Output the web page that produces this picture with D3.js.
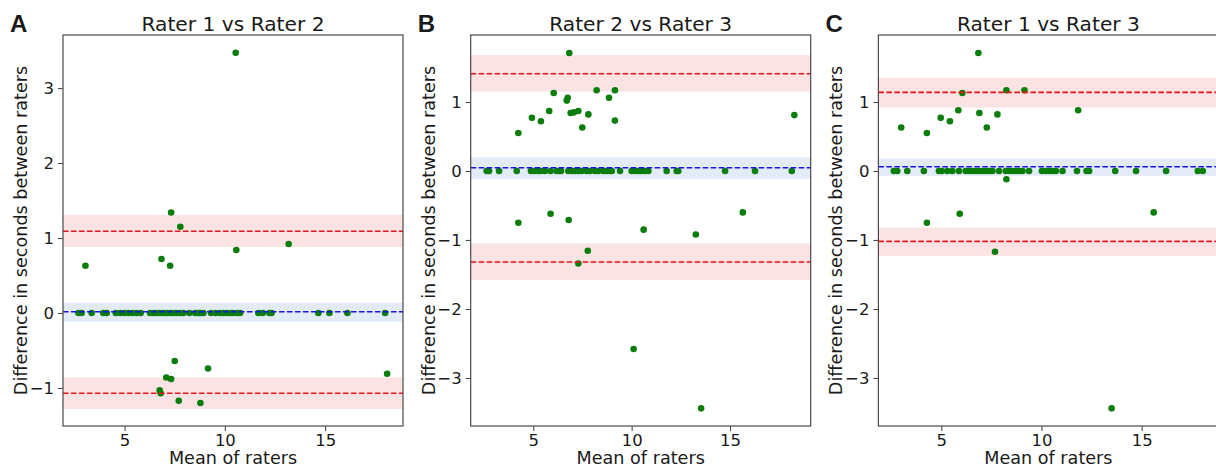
<!DOCTYPE html>
<html lang="en">
<head>
<meta charset="utf-8">
<title>Bland-Altman plots</title>
<script src="https://cdn.jsdelivr.net/npm/d3@7"></script>
<style>
  body { margin: 0; background: #fff; }
  text { font-family: "DejaVu Sans", sans-serif; fill: #1a1a1a; }
</style>
</head>
<body>
<script>
// ---- data ----
var titles = ["Rater 1 vs Rater 2", "Rater 2 vs Rater 3", "Rater 1 vs Rater 3"];
var letters = ["A", "B", "C"];
var xTicks = [5, 10, 15];
var yTicksA = [-1, 0, 1, 2, 3];
var yTicksBC = [-3, -2, -1, 0, 1];

// means where the difference was zero
var zeroA = [2.70, 2.86, 3.36, 3.94, 4.11, 4.56, 4.78, 4.98, 5.19, 5.39, 5.60, 5.80, 6.27, 6.44,
  6.60, 6.77, 6.94, 7.10, 7.27, 7.43, 7.60, 7.77, 7.93, 8.23, 8.52, 8.68, 8.76, 8.93, 9.31, 9.54,
  9.76, 9.93, 10.09, 10.26, 10.42, 10.62, 10.76, 11.67, 11.89, 12.22, 12.33, 14.66, 15.21, 16.11, 17.99];
var zeroB = [2.63, 2.75, 3.26, 4.16, 4.88, 5.04, 5.25, 5.39, 5.59, 5.88, 6.19, 6.31, 6.41, 6.78,
  6.95, 7.12, 7.29, 7.46, 7.71, 7.88, 8.14, 8.30, 8.56, 8.73, 8.90, 8.99, 9.41, 10.0, 10.17, 10.34,
  10.51, 10.68, 10.85, 11.78, 12.29, 12.37, 14.75, 16.27, 18.14];
var zeroC = [2.63, 2.80, 3.30, 4.13, 4.88, 5.02, 5.30, 5.55, 5.88, 6.22, 6.38, 6.55, 6.72, 6.88,
  7.05, 7.22, 7.38, 7.55, 7.88, 8.22, 8.38, 8.55, 8.72, 8.88, 9.05, 9.38, 10.02, 10.22, 10.38,
  10.55, 10.72, 11.05, 11.77, 12.25, 12.38, 13.68, 14.72, 16.22, 17.80, 18.05];

// points with a non-zero difference
var meanA = [10.54, 7.32, 7.78, 3.05, 6.84, 7.27, 10.57, 13.18, 7.50, 9.16, 7.08, 7.32, 6.75, 6.80, 7.70, 8.78, 18.09];
var diffA = [3.47, 1.34, 1.15, 0.63, 0.72, 0.63, 0.84, 0.92, -0.64, -0.74, -0.86, -0.88, -1.03, -1.07, -1.17, -1.20, -0.81];
var meanB = [6.83, 6.04, 8.22, 9.15, 8.85, 6.75, 6.70, 5.81, 4.93, 5.39, 6.90, 7.07, 7.29, 7.80, 7.49, 9.15, 4.24, 18.27,
  4.24, 5.88, 6.80, 10.61, 13.26, 15.65, 7.77, 7.29, 10.10, 13.53];
var diffB = [1.71, 1.13, 1.17, 1.17, 1.06, 1.06, 1.02, 0.87, 0.77, 0.72, 0.84, 0.85, 0.87, 0.82, 0.63, 0.73, 0.55, 0.81,
  -0.75, -0.62, -0.71, -0.85, -0.92, -0.60, -1.155, -1.34, -2.58, -3.44];
var meanC = [6.85, 6.05, 8.25, 9.15, 11.83, 5.85, 4.97, 5.43, 6.90, 7.80, 7.27, 3.00, 4.28, 8.25, 4.28, 5.92, 15.60, 7.68, 13.50];
var diffC = [1.71, 1.13, 1.17, 1.17, 0.88, 0.88, 0.77, 0.72, 0.84, 0.82, 0.63, 0.63, 0.55, -0.12, -0.75, -0.62, -0.60, -1.17, -3.44];

// bias and limits of agreement, with their confidence bands [line, low, high]
var biasLines = [[0.017, -0.116, 0.137], [0.048, -0.116, 0.20], [0.062, -0.07, 0.18]];
var upperLines = [[1.09, 0.88, 1.31], [1.41, 1.15, 1.68], [1.14, 0.92, 1.35]];
var lowerLines = [[-1.07, -1.28, -0.86], [-1.32, -1.58, -1.05], [-1.02, -1.23, -0.82]];

// axis ranges
var xDomains = [[1.93, 18.88], [1.82, 19.10], [1.86, 18.83]];
var yDomains = [[-1.507, 3.707], [-3.696, 1.971], [-3.696, 1.971]];

// ---- layout ----
var W = 1216, H = 467;
var plotTop = 35, plotBottom = 426, plotW = 340, panelStep = 407.7, firstLeft = 63;

var svg = d3.select("body").append("svg")
  .attr("width", W)
  .attr("height", H);

var zeros = [zeroA, zeroB, zeroC];
var means = [meanA, meanB, meanC];
var diffs = [diffA, diffB, diffC];
var yTickSets = [yTicksA, yTicksBC, yTicksBC];

for (var i = 0; i < 3; i++) {
  var left = firstLeft + i * panelStep;
  var right = left + plotW;

  var x = d3.scaleLinear().domain(xDomains[i]).range([left, right]);
  var y = d3.scaleLinear().domain(yDomains[i]).range([plotBottom, plotTop]);

  var g = svg.append("g");

  // points: zeros first, then others
  var pts = zeros[i].map(function(m) { return { m: m, d: 0 }; })
    .concat(means[i].map(function(m, k) { return { m: m, d: diffs[i][k] }; }));

  // confidence bands
  var bands = [
    { v: upperLines[i], fill: "#fbe3e3" },
    { v: lowerLines[i], fill: "#fbe3e3" },
    { v: biasLines[i], fill: "#e3eaf8" }
  ];
  g.selectAll("rect.band")
    .data(bands)
    .enter()
    .append("rect")
    .attr("class", "band")
    .attr("x", left)
    .attr("width", plotW)
    .attr("y", function(d) { return y(d.v[2]); })
    .attr("height", function(d) { return y(d.v[1]) - y(d.v[2]); })
    .attr("fill", function(d) { return d.fill; });

  // scatter
  g.selectAll("circle")
    .data(pts)
    .enter()
    .append("circle")
    .attr("cx", function(d) { return x(d.m); })
    .attr("cy", function(d) { return y(d.d); })
    .attr("r", 3.3)
    .attr("fill", "#0b7d0b");

  // dashed lines
  var lines = [
    { v: upperLines[i][0], c: "#e8141c" },
    { v: lowerLines[i][0], c: "#e8141c" },
    { v: biasLines[i][0], c: "#1515e0" }
  ];
  g.selectAll("line.ref")
    .data(lines)
    .enter()
    .append("line")
    .attr("class", "ref")
    .attr("x1", left)
    .attr("x2", right)
    .attr("y1", function(d) { return y(d.v); })
    .attr("y2", function(d) { return y(d.v); })
    .attr("stroke", function(d) { return d.c; })
    .attr("stroke-width", 1.6)
    .attr("stroke-dasharray", "5.5,2.5");

  // frame
  g.append("rect")
    .attr("x", left)
    .attr("y", plotTop)
    .attr("width", plotW)
    .attr("height", plotBottom - plotTop)
    .attr("fill", "none")
    .attr("stroke", "#4a4a4a")
    .attr("stroke-width", 1.2);

  // axes
  var xAxis = d3.axisBottom(x).tickValues(xTicks).tickSize(5).tickPadding(3);
  var yAxis = d3.axisLeft(y).tickValues(yTickSets[i]).tickSize(5).tickPadding(4)
    .tickFormat(function(d) { return d < 0 ? "\u2212" + Math.abs(d) : d; });

  var gx = g.append("g")
    .attr("transform", "translate(0," + plotBottom + ")")
    .call(xAxis);
  var gy = g.append("g")
    .attr("transform", "translate(" + left + ",0)")
    .call(yAxis);
  [gx, gy].forEach(function(a) {
    a.select(".domain").remove();
    a.selectAll(".tick line").attr("stroke", "#4a4a4a").attr("stroke-width", 1.1);
    a.selectAll(".tick text")
      .attr("font-size", "16.5px")
      .attr("font-family", "DejaVu Sans, sans-serif")
      .attr("fill", "#1a1a1a");
  });

  // title
  g.append("text")
    .attr("x", (left + right) / 2)
    .attr("y", 30.5)
    .attr("text-anchor", "middle")
    .attr("font-size", "20.2px")
    .text(titles[i]);

  // panel letter
  g.append("text")
    .attr("x", left - 53)
    .attr("y", 32)
    .attr("font-size", "24px")
    .attr("font-weight", "bold")
    .style("font-family", "Liberation Sans, Arial, sans-serif")
    .text(letters[i]);

  // axis labels
  g.append("text")
    .attr("x", (left + right) / 2)
    .attr("y", 463.5)
    .attr("text-anchor", "middle")
    .attr("font-size", "17.6px")
    .text("Mean of raters");

  g.append("text")
    .attr("transform", "translate(" + (left - 36) + "," + ((plotTop + plotBottom) / 2) + ") rotate(-90)")
    .attr("text-anchor", "middle")
    .attr("font-size", "17.6px")
    .text("Difference in seconds between raters");
}
</script>
</body>
</html>
